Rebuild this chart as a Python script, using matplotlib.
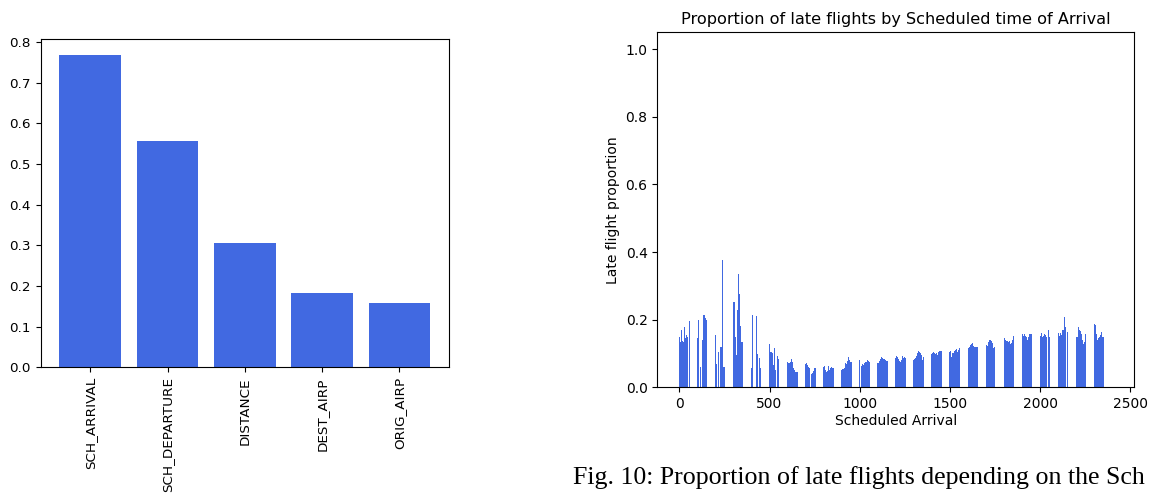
import numpy as np
import matplotlib.pyplot as plt

# -----------------------------------------------------------------------
# left panel: feature importance
# -----------------------------------------------------------------------
features    = ["SCH_ARRIVAL", "SCH_DEPARTURE", "DISTANCE", "DEST_AIRP", "ORIG_AIRP"]
importances = [0.768, 0.556, 0.305, 0.182, 0.157]

# -----------------------------------------------------------------------
# right panel: late proportion by scheduled arrival (HHMM), 5-minute slots
# -----------------------------------------------------------------------
hours   = list(range(24))
minutes = [0, 5, 10, 15, 20, 25, 30, 35, 40, 45, 50, 55]

late_h00 = [0.148, 0.135, 0.170, 0.228, 0.138, 0.135, 0.177, 0.145, 0.155, 0.150, 0.0, 0.197]
late_h01 = [0.145, 0.200, 0.0, 0.061, 0.132, 0.0, 0.140, 0.213, 0.213, 0.205, 0.200, 0.0]
late_h02 = [0.155, 0.070, 0.0, 0.103, 0.0, 0.0, 0.118, 0.118, 0.376, 0.060, 0.060, 0.0]
late_h03 = [0.251, 0.251, 0.150, 0.095, 0.228, 0.250, 0.334, 0.275, 0.180, 0.135, 0.135, 0.0]
late_h04 = [0.058, 0.213, 0.0, 0.0, 0.0, 0.0, 0.211, 0.098, 0.0, 0.087, 0.056, 0.0]
late_h05 = [0.127, 0.105, 0.103, 0.100, 0.066, 0.045, 0.115, 0.050, 0.0, 0.094, 0.085, 0.0]
late_h06 = [0.074, 0.072, 0.071, 0.076, 0.085, 0.074, 0.060, 0.056, 0.050, 0.046, 0.046, 0.046]
late_h07 = [0.070, 0.072, 0.065, 0.060, 0.056, 0.0, 0.036, 0.039, 0.042, 0.049, 0.056, 0.058]
late_h08 = [0.060, 0.062, 0.050, 0.046, 0.047, 0.062, 0.050, 0.060, 0.058, 0.061, 0.058, 0.057]
late_h09 = [0.050, 0.053, 0.055, 0.058, 0.072, 0.068, 0.078, 0.082, 0.089, 0.080, 0.074, 0.075]
late_h10 = [0.082, 0.0, 0.062, 0.070, 0.065, 0.073, 0.076, 0.074, 0.076, 0.080, 0.078, 0.075]
late_h11 = [0.071, 0.072, 0.078, 0.085, 0.089, 0.087, 0.085, 0.083, 0.079, 0.082, 0.077, 0.077]
late_h12 = [0.088, 0.092, 0.090, 0.085, 0.078, 0.076, 0.080, 0.093, 0.092, 0.088, 0.090, 0.088]
late_h13 = [0.081, 0.085, 0.088, 0.093, 0.100, 0.108, 0.105, 0.100, 0.095, 0.090, 0.081, 0.090]
late_h14 = [0.098, 0.102, 0.104, 0.100, 0.098, 0.100, 0.097, 0.103, 0.107, 0.108, 0.108, 0.108]
late_h15 = [0.105, 0.106, 0.090, 0.100, 0.102, 0.108, 0.110, 0.112, 0.104, 0.110, 0.115, 0.116]
late_h16 = [0.107, 0.115, 0.120, 0.125, 0.128, 0.131, 0.122, 0.120, 0.118, 0.120, 0.121, 0.120]
late_h17 = [0.130, 0.126, 0.122, 0.135, 0.140, 0.141, 0.138, 0.130, 0.117, 0.118, 0.131, 0.0]
late_h18 = [0.146, 0.159, 0.140, 0.136, 0.138, 0.134, 0.136, 0.129, 0.130, 0.140, 0.151, 0.0]
late_h19 = [0.159, 0.156, 0.152, 0.158, 0.152, 0.150, 0.140, 0.150, 0.159, 0.158, 0.157, 0.155]
late_h20 = [0.151, 0.162, 0.0, 0.148, 0.151, 0.159, 0.155, 0.148, 0.0, 0.168, 0.150, 0.0]
late_h21 = [0.162, 0.152, 0.167, 0.160, 0.155, 0.168, 0.170, 0.207, 0.178, 0.0, 0.163, 0.0]
late_h22 = [0.148, 0.150, 0.166, 0.178, 0.170, 0.167, 0.158, 0.140, 0.128, 0.135, 0.159, 0.0]
late_h23 = [0.188, 0.185, 0.157, 0.137, 0.140, 0.147, 0.150, 0.155, 0.164, 0.150, 0.148, 0.0]

late_rows = [late_h00, late_h01, late_h02, late_h03, late_h04, late_h05,
             late_h06, late_h07, late_h08, late_h09, late_h10, late_h11,
             late_h12, late_h13, late_h14, late_h15, late_h16, late_h17,
             late_h18, late_h19, late_h20, late_h21, late_h22, late_h23]

sch_arrival = np.array([h * 100 + m for h in hours for m in minutes])
late_prop   = np.concatenate(late_rows)

caption = "Fig. 10: Proportion of late flights depending on the Sch"

fig = plt.figure(figsize=(11.53, 4.93), dpi=100)

# --- feature importance
ax1 = fig.add_axes([0.0353, 0.255, 0.3541, 0.6653])
ax1.bar(features, importances, color="royalblue")
ax1.tick_params(axis="x", rotation=90)
ax1.tick_params(labelsize=9.7)

# --- late proportion by arrival time
ax2 = fig.add_axes([0.5701, 0.2144, 0.4137, 0.7201])
ax2.bar(sch_arrival, late_prop, width=5, color="royalblue", linewidth=0)
ax2.set_xlim(-122, 2522)
ax2.set_ylim(0, 1.05)
ax2.set_xticks([0, 500, 1000, 1500, 2000, 2500])
ax2.set_title("Proportion of late flights by Scheduled time of Arrival", fontsize=11.6)
ax2.set_xlabel("Scheduled Arrival", fontsize=10, labelpad=2)
ax2.set_ylabel("Late flight proportion", fontsize=10)
ax2.tick_params(labelsize=10)

fig.text(0.497, 0.031, caption,
         family="Liberation Serif", fontsize=18.6, va="center", ha="left")

plt.savefig("out.png", dpi=100)
